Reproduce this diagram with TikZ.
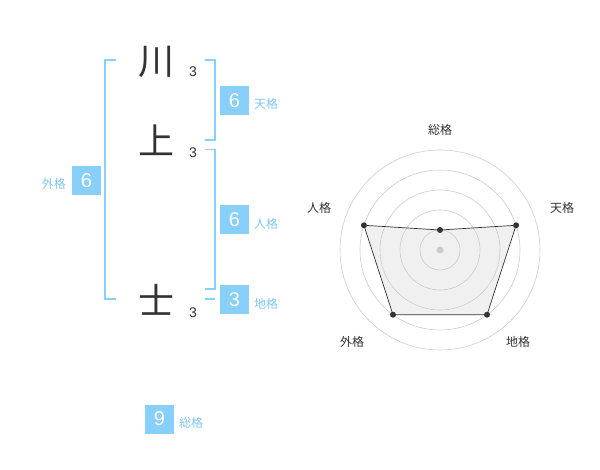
\documentclass[tikz,border=0pt]{standalone}
\usepackage{fontspec}
\newfontfamily\cjk{Noto Sans CJK JP}
\newfontfamily\digits{Liberation Sans}
\definecolor{bl}{HTML}{88CFFA}
\definecolor{bltxt}{HTML}{7FC6F2}
\definecolor{dk}{HTML}{333333}
\definecolor{grid}{HTML}{CCCCCC}
\begin{document}
\begin{tikzpicture}[x=1pt,y=-1pt,
  kanji/.style={font=\cjk\fontsize{36}{36}\selectfont,text=dk,inner sep=0},
  cnt/.style={font=\digits\fontsize{14}{14}\selectfont,text=dk,inner sep=0},
  numbox/.style={fill=bl,text=white,minimum width=29pt,minimum height=29pt,inner sep=0,font=\digits\fontsize{20}{20}\selectfont},
  lbl/.style={font=\cjk\fontsize{12}{12}\selectfont,text=bltxt,inner sep=0},
  rlbl/.style={font=\cjk\fontsize{12}{12}\selectfont,text=dk,inner sep=0},
  brk/.style={draw=bl,line width=1.5pt},
  dot/.style={circle,fill=dk,inner sep=0,minimum size=6pt}]
\useasboundingbox (0,0) rectangle (600,470);
% characters
\node[kanji] (k1) at (156,62) {川};
\node[kanji] (k2) at (156,140) {上};
\node[kanji] (k3) at (156,300) {士};
\node[cnt] (c1) at (193,72) {3};
\node[cnt] (c2) at (193,153) {3};
\node[cnt] (c3) at (193,313) {3};
% brackets
\draw[brk] (116,60) -- (105,60) -- (105,299) -- (116,299);
\draw[brk] (205,60) -- (215,60) -- (215,140) -- (205,140);
\draw[brk] (205,149.5) -- (215,149.5) -- (215,289) -- (205,289);
\draw[brk] (205,299) -- (215,299);
% boxes
\node[numbox] (ten) at (234.5,100.5) {6};
\node[lbl,anchor=west] (tenl) at (254,104) {天格};
\node[numbox] (jin) at (234.5,220) {6};
\node[lbl,anchor=west] (jinl) at (254,224) {人格};
\node[numbox] (chi) at (234.5,300) {3};
\node[lbl,anchor=west] (chil) at (254,304) {地格};
\node[numbox] (gai) at (86.5,181) {6};
\node[lbl,anchor=east] (gail) at (66,184) {外格};
\node[numbox] (sou) at (159.5,419) {9};
\node[lbl,anchor=west] (soul) at (179,423) {総格};
% radar
\coordinate (O) at (440,250);
\begin{scope}[shift={(440,250)},y=1pt]
\coordinate (pS) at (90:20);
\coordinate (pT) at (18:80);
\coordinate (pC) at (-54:80);
\coordinate (pG) at (-126:80);
\coordinate (pJ) at (162:80);
\end{scope}
\fill[black!6] (pS) -- (pT) -- (pC) -- (pG) -- (pJ) -- cycle;
\foreach \r in {20,40,60,80,100} \draw[grid,line width=0.6pt] (O) circle[radius=\r];
\fill[grid] (O) circle[radius=3.5];
\draw[dk,line width=0.7pt] (pS) -- (pT) -- (pC) -- (pG) -- (pJ) -- cycle;
\foreach \p in {pS,pT,pC,pG,pJ} \node[dot] at (\p) {};
\node[rlbl] (rS) at (440,130) {総格};
\node[rlbl] (rT) at (562,208) {天格};
\node[rlbl] (rC) at (518,342) {地格};
\node[rlbl] (rG) at (352,342) {外格};
\node[rlbl] (rJ) at (319,208) {人格};
\end{tikzpicture}
\end{document}
